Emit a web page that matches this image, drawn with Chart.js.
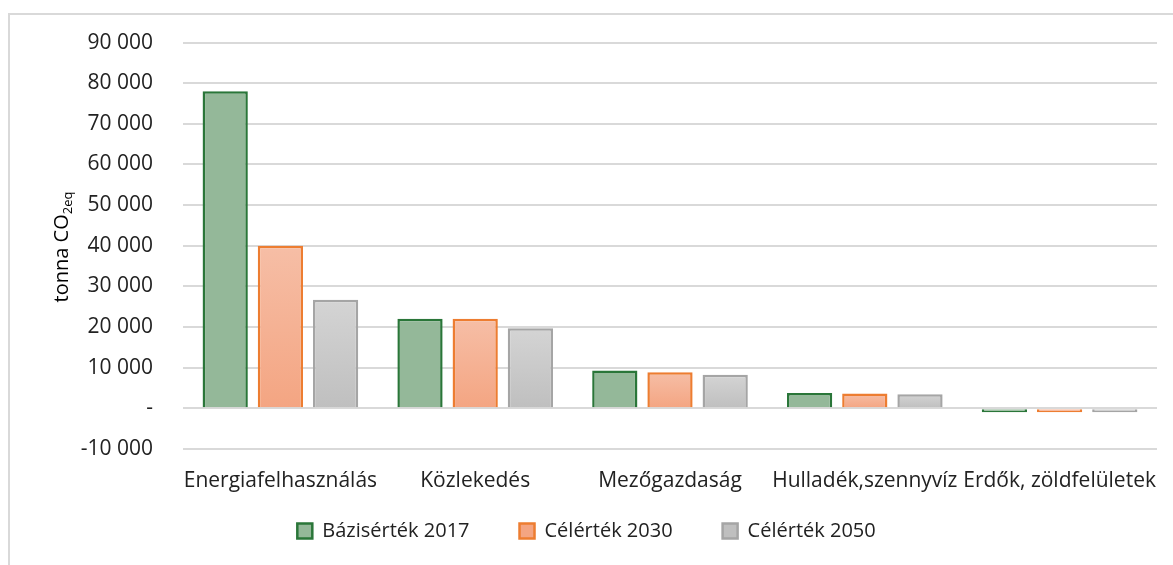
<!DOCTYPE html>
<html>
<head>
<meta charset="utf-8">
<script src="https://cdn.jsdelivr.net/npm/chart.js@4/dist/chart.umd.min.js"></script>
<style>
  html, body { margin: 0; padding: 0; background: #fff; }
  #wrap { width: 1173px; height: 565px; position: relative; }
</style>
</head>
<body>
<div id="wrap"><canvas id="chart" width="1173" height="565"></canvas></div>
<script>
// Data
const categories = ["Energiafelhasználás", "Közlekedés", "Mezőgazdaság", "Hulladék,szennyvíz", "Erdők, zöldfelületek"];
const base2017 = [78000, 22000, 9250, 3750, -1000];
const target2030 = [40000, 22000, 8850, 3600, -1000];
const target2050 = [26700, 19700, 8250, 3400, -1000];
const seriesNames = ["Bázisérték 2017", "Célérték 2030", "Célérték 2050"];

const FONT = "'Open Sans'";
const LEGEND_PAD = 50;   // horizontal gap between legend items
const LEGEND_SHIFT = 35; // pull the legend box up so the wide gap doesn't eat vertical space

// vertical gradient per bar, from its top down to the zero line
function barGradient(top, bottom) {
  return (ctx) => {
    const chart = ctx.chart;
    const y = chart.scales.y;
    if (!y || !ctx.parsed || ctx.type !== "data") return bottom;
    const y0 = y.getPixelForValue(0);
    const y1 = y.getPixelForValue(ctx.parsed.y);
    if (!isFinite(y0) || !isFinite(y1) || Math.abs(y1 - y0) < 1) return bottom;
    const g = chart.ctx.createLinearGradient(0, Math.min(y0, y1), 0, Math.max(y0, y1));
    g.addColorStop(0, top);
    g.addColorStop(1, bottom);
    return g;
  };
}

// outer frame (top and left edge only are visible in the reference)
const framePlugin = {
  id: "frame",
  beforeDraw(chart) {
    const c = chart.ctx;
    c.save();
    c.strokeStyle = "#d9d9d9";
    c.lineWidth = 2;
    c.beginPath();
    c.moveTo(9, 565);
    c.lineTo(9, 14);
    c.lineTo(1173, 14);
    c.stroke();
    c.restore();
  }
};

// legend padding is used both ways in Chart.js; keep the wide horizontal gap
// but take the extra height back out
const legendTweak = {
  id: "legendTweak",
  beforeLayout(chart) {
    const lg = chart.legend;
    if (!lg || lg._tweaked) return;
    const fit = lg.fit.bind(lg);
    const draw = lg.draw.bind(lg);
    lg.fit = function () { fit(); this.height -= LEGEND_SHIFT; };
    lg.draw = function () {
      this.top -= LEGEND_SHIFT;
      draw();
      this.top += LEGEND_SHIFT;
    };
    lg._tweaked = true;
  }
};

// y axis title with subscript: tonna CO2eq
const yTitlePlugin = {
  id: "yTitle",
  afterDraw(chart) {
    const c = chart.ctx;
    const main = "tonna CO";
    const sub = "2eq";
    c.save();
    c.fillStyle = "#000";
    c.translate(62, 247);
    c.rotate(-Math.PI / 2);
    c.font = "20px " + FONT;
    const w1 = c.measureText(main).width;
    c.font = "13px " + FONT;
    const w2 = c.measureText(sub).width;
    const start = -(w1 + w2) / 2;
    c.textBaseline = "middle";
    c.textAlign = "left";
    c.font = "20px " + FONT;
    c.fillText(main, start, 0);
    c.font = "13px " + FONT;
    c.fillText(sub, start + w1, 6);
    c.restore();
  }
};

const datasets = [
  {
    label: seriesNames[0],
    data: base2017,
    backgroundColor: barGradient("#94b899", "#94b899"),
    borderColor: "#2a7639",
    borderWidth: 2.5
  },
  {
    label: seriesNames[1],
    data: target2030,
    backgroundColor: barGradient("#f6bea6", "#f4a582"),
    borderColor: "#ed7d31",
    borderWidth: 2.5
  },
  {
    label: seriesNames[2],
    data: target2050,
    backgroundColor: barGradient("#d4d4d4", "#bfbfbf"),
    borderColor: "#a5a5a5",
    borderWidth: 2.5
  }
];

new Chart(document.getElementById("chart"), {
  type: "bar",
  data: { labels: categories, datasets: datasets },
  options: {
    responsive: false,
    animation: false,
    events: [],
    layout: { padding: { left: 16, right: 16, top: 41, bottom: 14 } },
    datasets: {
      bar: { barPercentage: 0.82, categoryPercentage: 0.85 }
    },
    plugins: {
      legend: {
        position: "bottom",
        labels: {
          color: "#222",
          font: { family: FONT, size: 20 },
          boxWidth: 15,
          boxHeight: 15,
          padding: LEGEND_PAD
        }
      },
      tooltip: { enabled: false }
    },
    scales: {
      x: {
        grid: { display: false },
        border: { display: false },
        ticks: {
          color: "#222",
          font: { family: FONT, size: 21 },
          padding: 12,
          maxRotation: 0,
          autoSkip: false
        }
      },
      y: {
        min: -10000,
        max: 90000,
        afterFit(scale) { scale.width = 167; },
        grid: { color: "#d9d9d9", lineWidth: 2, drawTicks: false },
        border: { display: false },
        ticks: {
          stepSize: 10000,
          color: "#222",
          padding: 30,
          font: { family: FONT, size: 21 },
          callback(v) {
            if (v === 0) return "-";
            const s = Math.abs(v).toString().replace(/\B(?=(\d{3})+(?!\d))/g, " ");
            return (v < 0 ? "-" : "") + s;
          }
        }
      }
    }
  },
  plugins: [framePlugin, legendTweak, yTitlePlugin]
});
</script>
</body>
</html>
